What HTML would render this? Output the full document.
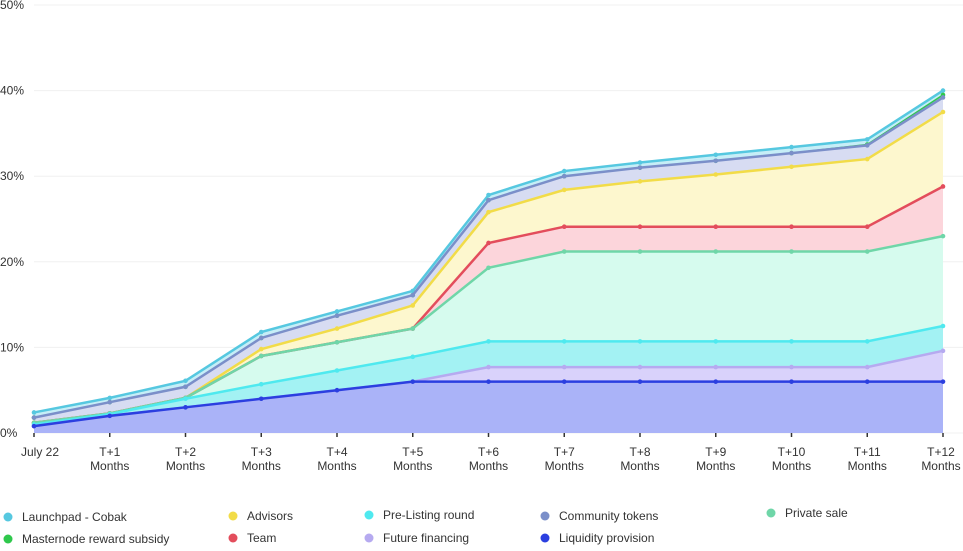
<!DOCTYPE html>
<html><head><meta charset="utf-8"><style>
body{margin:0;background:#fff;font-family:"Liberation Sans",sans-serif;}
svg text{font-family:"Liberation Sans",sans-serif;fill:#333;}
</style></head><body>
<svg id="chart" width="963" height="546" xmlns="http://www.w3.org/2000/svg">
<g id="grid"></g>
<g id="areas"></g>
<g id="lines"></g>
<g id="axes"></g>
<g id="legend"></g>
</svg>
<script>
const categories=["July 22","T+1","T+2","T+3","T+4","T+5","T+6","T+7","T+8","T+9","T+10","T+11","T+12"];
const yTicks=[0,10,20,30,40,50];
const liquidity=[0.8,2,3,4,5,6,6,6,6,6,6,6,6];
const futureFin=[0,0,0,0,0,0,1.7,1.7,1.7,1.7,1.7,1.7,3.6];
const preListing=[0.2,0.2,1,1.7,2.3,2.9,3,3,3,3,3,3,2.9];
const privateSale=[0.2,0.1,0.1,3.3,3.3,3.3,8.6,10.5,10.5,10.5,10.5,10.5,10.5];
const team=[0,0,0,0,0,0,2.9,2.9,2.9,2.9,2.9,2.9,5.8];
const advisors=[0,0,0,0.8,1.6,2.7,3.6,4.3,5.3,6.1,7,7.9,8.7];
const community=[0.6,1.3,1.3,1.3,1.5,1.2,1.4,1.6,1.6,1.6,1.6,1.6,1.7];
const masternode=[0,0,0,0,0,0,0,0,0,0,0,0.1,0.3];
const launchpad=[0.6,0.5,0.7,0.7,0.5,0.5,0.6,0.6,0.6,0.7,0.7,0.6,0.5];

const series=[
 {n:"Liquidity provision",k:"liquidity-provision",d:liquidity,l:"#2b3fe0",f:"#aab3f8",w:2.5},
 {n:"Future financing",k:"future-financing",d:futureFin,l:"#b6aaf0",f:"#d9d2fb",w:2.5},
 {n:"Pre-Listing round",k:"pre-listing-round",d:preListing,l:"#4fe9ef",f:"#a3f2f3",w:2.5},
 {n:"Private sale",k:"private-sale",d:privateSale,l:"#6fd6a8",f:"#d6fbee",w:2.5},
 {n:"Team",k:"team",d:team,l:"#e34d5c",f:"#fcd5db",w:2.5},
 {n:"Advisors",k:"advisors",d:advisors,l:"#f2dc48",f:"#fdf7ce",w:2.5},
 {n:"Community tokens",k:"community-tokens",d:community,l:"#7b8fc9",f:"#d7dcf2",w:2.5},
 {n:"Masternode reward subsidy",k:"masternode-reward-subsidy",d:masternode,l:"#2fc84c",f:"#b8ecc4",w:1.5},
 {n:"Launchpad - Cobak",k:"launchpad-cobak",d:launchpad,l:"#56c8e0",f:"#c6eef7",w:2.5}
];
const X0=34,X1=943,Y0=433,Y50=5;
const x=i=>X0+(X1-X0)*i/(categories.length-1);
const y=v=>Y0-(Y0-Y50)*v/50;
const NS="http://www.w3.org/2000/svg";
function mk(t,a,p){const e=document.createElementNS(NS,t);for(const k in a)e.setAttribute(k,a[k]);p.appendChild(e);return e;}
const grid=document.getElementById('grid'),axes=document.getElementById('axes');
yTicks.forEach(v=>{
 const g=mk('line',{x1:34,x2:963,y1:y(v),y2:y(v),stroke:'#f0f0f0','stroke-width':1},grid);
 
 
 const t=mk('text',{x:0,y:y(v)+4,'font-size':12},axes);t.textContent=v+'%';
 
 
});
categories.forEach((c,i)=>{
 const tk=mk('line',{x1:x(i),x2:x(i),y1:Y0,y2:Y0+4,stroke:'#333','stroke-width':1.5},axes);
 
 
 const t=mk('text',{x:x(i),y:456,'font-size':12,'text-anchor':'middle'},axes);
 
 
 if(i===0){t.textContent=c;t.setAttribute('x',x(i)+6);}
 else{const a=mk('tspan',{x:x(i)},t);a.textContent=c;const b=mk('tspan',{x:x(i),dy:14},t);b.textContent='Months';
  if(i===categories.length-1){a.setAttribute('x',x(i)-2);b.setAttribute('x',x(i)-2);}}
});
const areas=document.getElementById('areas'),lines=document.getElementById('lines');
let base=categories.map(()=>0);
const tops=[];
series.forEach(s=>{
 const top=base.map((b,i)=>b+s.d[i]);
 tops.push(top);
 let p=top.map((v,i)=>(i?'L':'M')+x(i)+','+y(v)).join(' ');
 for(let i=base.length-1;i>=0;i--)p+=' L'+x(i)+','+y(base[i]);
 const a=mk('path',{d:p+' Z',fill:s.f,stroke:'none'},areas);
 
 
 base=top;
});
for(let si=series.length-1;si>=0;si--){
 const s=series[si],top=tops[si];
 const ln=mk('polyline',{points:top.map((v,i)=>x(i)+','+y(v)).join(' '),fill:'none',stroke:s.l,'stroke-width':s.w},lines);
 
 
 top.forEach((v,i)=>{const c=mk('circle',{cx:x(i),cy:y(v),r:2.3,fill:s.l},lines);
  
  });
}
const leg=[["launchpad-cobak","Launchpad - Cobak","#56c8e0",8,517],["masternode-reward-subsidy","Masternode reward subsidy","#2fc84c",8,539],
["advisors","Advisors","#f2dc48",233,516],["team","Team","#e34d5c",233,538],
["pre-listing-round","Pre-Listing round","#4fe9ef",369,515],["future-financing","Future financing","#b6aaf0",369,538],
["community-tokens","Community tokens","#7b8fc9",545,516],["liquidity-provision","Liquidity provision","#2b3fe0",545,538],
["private-sale","Private sale","#6fd6a8",771,513]];
const lg=document.getElementById('legend');
leg.forEach(e=>{
 const g=mk('g',{},lg);
 
 
 mk('circle',{cx:e[3],cy:e[4],r:4.5,fill:e[2]},g);
 const t=mk('text',{x:e[3]+14,y:e[4]+4,'font-size':12},g);t.textContent=e[1];
});
</script>
</body></html>
